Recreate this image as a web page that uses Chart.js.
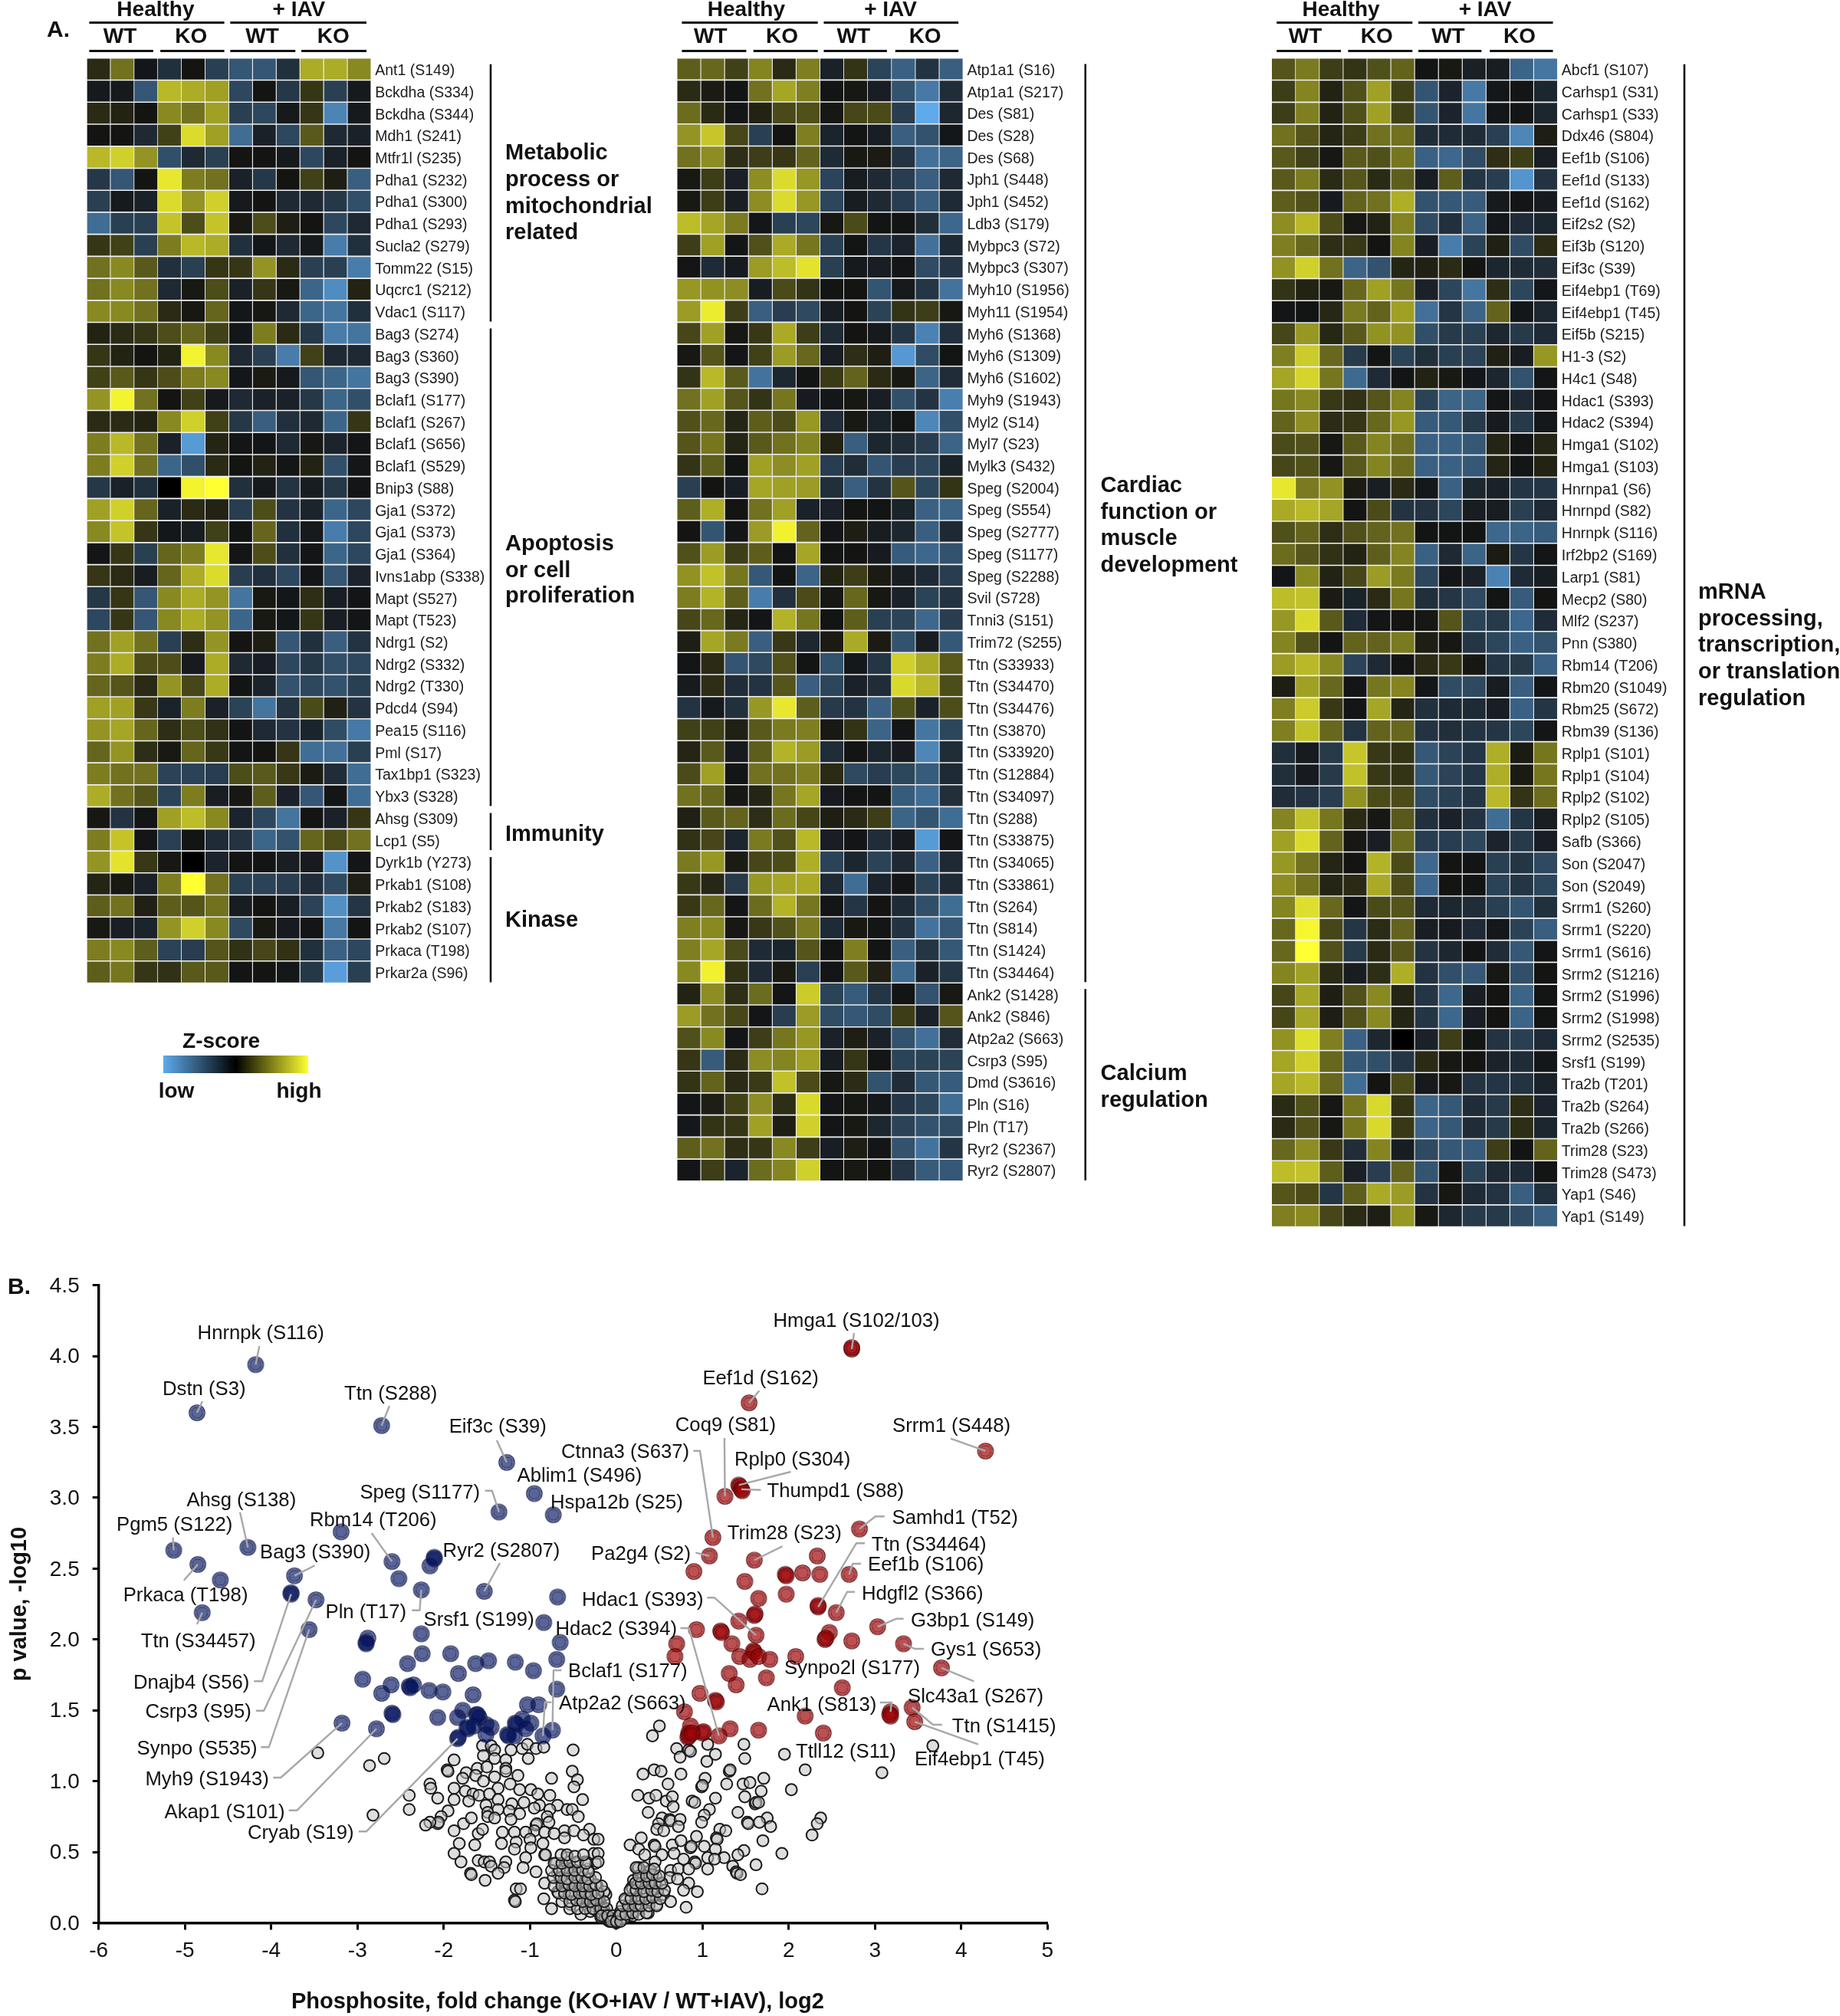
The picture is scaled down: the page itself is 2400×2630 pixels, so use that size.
<!DOCTYPE html>
<html><head><meta charset="utf-8">
<style>html,body{margin:0;padding:0;background:#fff}#s{position:relative;width:2400px;height:2630px;overflow:hidden;background:#fff}canvas{position:absolute;display:block}</style>
<script src="https://cdn.jsdelivr.net/npm/chart.js@4/dist/chart.umd.min.js"></script>
</head><body><div id="s"></div>
<script>
// ---------- heat-map data ----------
const labelsA=["Ant1 (S149)","Bckdha (S334)","Bckdha (S344)","Mdh1 (S241)","Mtfr1l (S235)","Pdha1 (S232)","Pdha1 (S300)","Pdha1 (S293)","Sucla2 (S279)","Tomm22 (S15)","Uqcrc1 (S212)","Vdac1 (S117)","Bag3 (S274)","Bag3 (S360)","Bag3 (S390)","Bclaf1 (S177)","Bclaf1 (S267)","Bclaf1 (S656)","Bclaf1 (S529)","Bnip3 (S88)","Gja1 (S372)","Gja1 (S373)","Gja1 (S364)","Ivns1abp (S338)","Mapt (S527)","Mapt (T523)","Ndrg1 (S2)","Ndrg2 (S332)","Ndrg2 (T330)","Pdcd4 (S94)","Pea15 (S116)","Pml (S17)","Tax1bp1 (S323)","Ybx3 (S328)","Ahsg (S309)","Lcp1 (S5)","Dyrk1b (Y273)","Prkab1 (S108)","Prkab2 (S183)","Prkab2 (S107)","Prkaca (T198)","Prkar2a (S96)"];
const zA=[[1,4,-.3,-2,.1,-3,-4.5,-4.5,-2,6.5,6.5,5],[-.5,-.5,-4.5,7,6.5,6,-3.5,.1,-2.5,1.5,-3,-.5],[1,.7,.1,5,4,6,-3,-3.5,-.5,1.5,-7.5,-.5],[.1,.1,-1.5,2,8.5,6,-6,-1,-3.5,3,-1.5,-1],[7,8,5.5,-4,-1.5,-3,.1,.1,-.5,-3.5,-1,.1],[-2.5,-4.5,.1,9,4.5,4,-1,-2.5,.1,2,.5,-5],[-3,-.5,-1,8.5,5.5,8,-.5,.1,-1.5,-1.5,-2.5,-4],[-6,-3,-3,7.5,2.5,7.5,.3,2.5,.5,.1,-3.5,-1.5],[1.5,2,-3,4.5,7,6.5,-2,-.3,-1.5,-.5,-7,-2],[4,5,3,-2,-3,1.5,1.5,5.5,1,-3,-3,-7],[4,5,4,-1.5,.3,2.5,-1,1.5,.3,-5.5,-8,.7],[5,5,4,1,.2,3.5,-.3,.2,-1.5,-5.5,-6.5,-2],[.7,1,1.5,2.5,3.5,2,-.3,4.5,1,-2.5,-7,-6.5],[1.5,.7,.1,.7,9.5,5,-1.5,-3,-7,2,-1.5,-1.5],[2,3,1.5,2.5,4.5,5,-.3,.4,-.5,-4.5,-5.5,-6.5],[5.5,9.5,4,.1,2,-.5,-1.5,-1,-1,-2.5,-5.5,-4],[1,1,.7,5,8,2,-2.5,-5,-2,-1.5,-5.5,1.5],[4.5,7,4,-1,-9,.8,-.2,-.2,-1.5,.2,-1.2,-.2],[4.5,8,4,-5.5,-4,1,.1,.7,-.2,.7,-4,-.3],[-2.5,-1,-2,0,9.5,10,-2,-.5,-2.2,-.7,-2.5,-.2],[6,8,3.5,-1,1,.7,-2.8,2.5,-2.2,-1.2,-5.5,-3.5],[5,7.5,1.5,-.3,-.7,2,-.1,3.5,-2,-.5,-7,-3.5],[-.2,1.5,-3,3.5,4.5,9,-.2,2.5,-2,-.2,-5.5,-3.5],[1.5,1,-.7,3.5,6.5,8.5,-2.8,-2,-3.5,-.2,-4.5,-1.2],[-2.5,1.5,-4.5,5,6.5,5.5,-6.5,.3,-.3,1.2,-.8,-.2],[-3.5,1.5,-4.5,5,6.5,5.5,-5.5,.3,-.3,1.5,-.8,-.2],[4,6,4,-3,1.2,5.5,.1,.5,-4.5,-2,-5,-2.2],[4.5,6.5,2.5,2.5,-.6,6.5,-1.5,-.8,-3.5,-2.5,-4,-3.5],[3.5,2.8,1,5.5,2.2,6.5,-.1,-1.2,-4.2,-3.5,-4.2,-3],[6,6,1.6,-1.1,4.5,-1,-3.2,-6.5,-2.2,2.4,.6,-2.2],[5.5,6.2,3.5,1.2,2.5,1.3,-.1,-1.5,-2.2,-1.2,-3.8,-6.8],[3.5,5.5,1.2,.3,3.5,1.6,-.1,.1,1.5,-6,-6.2,-3],[4.5,4,4,-3.2,-3.2,-2.8,2.5,3,1.6,.4,-1.8,-6],[6.5,4,2.8,-3.2,4.5,-.8,.2,3.2,-1,-4.5,-.2,-6],[.2,-2.2,-.2,6,7.2,5,-1.2,-3.5,-6.5,-.1,-1,1.5],[4.5,7.5,-.2,-3,-.1,-1.7,-2.2,-5.5,-4.2,3.5,2.5,4],[5.5,8.8,1.6,.2,0,-1.2,-.1,-.1,-.8,-.6,-8.5,-.2],[.8,.3,-1,4.5,10,4,-3,-3.2,-2.8,-1.8,-3.6,.5],[3.2,4,.6,3.2,2.8,4,-.7,.1,-.8,-3.2,-8.2,-2.4],[.3,-.8,-1.2,5.5,8,5,-3.6,.3,-.6,-.2,-6.8,-.1],[4.5,5,3.2,-3.2,-2.8,2.8,1.3,2.2,1.3,-2,-5.2,-3.5],[3.2,4.2,1.5,1.3,3,3,-.1,.1,-.4,-2.5,-9.2,-3]];
const labelsB=["Atp1a1 (S16)","Atp1a1 (S217)","Des (S81)","Des (S28)","Des (S68)","Jph1 (S448)","Jph1 (S452)","Ldb3 (S179)","Mybpc3 (S72)","Mybpc3 (S307)","Myh10 (S1956)","Myh11 (S1954)","Myh6 (S1368)","Myh6 (S1309)","Myh6 (S1602)","Myh9 (S1943)","Myl2 (S14)","Myl7 (S23)","Mylk3 (S432)","Speg (S2004)","Speg (S554)","Speg (S2777)","Speg (S1177)","Speg (S2288)","Svil (S728)","Tnni3 (S151)","Trim72 (S255)","Ttn (S33933)","Ttn (S34470)","Ttn (S34476)","Ttn (S3870)","Ttn (S33920)","Ttn (S12884)","Ttn (S34097)","Ttn (S288)","Ttn (S33875)","Ttn (S34065)","Ttn (S33861)","Ttn (S264)","Ttn (S814)","Ttn (S1424)","Ttn (S34464)","Ank2 (S1428)","Ank2 (S846)","Atp2a2 (S663)","Csrp3 (S95)","Dmd (S3616)","Pln (S16)","Pln (T17)","Ryr2 (S2367)","Ryr2 (S2807)"];
const zB=[[3.2,3.6,2,4.8,1,4.6,-1,1.4,-3.3,-5.2,-2.2,-5],[1,.4,-.1,4,6.2,4.6,-.1,.2,-.8,-4.2,-6.8,-1.8],[3.8,1,-.2,.7,2.3,2.6,.2,2.2,2.4,-2.8,-10,-1.4],[5.5,7.6,2.2,-3,.1,4.6,-1.2,-.1,-.8,-5,-4.2,-.3],[4,5.2,1.2,1.8,1.5,3.4,-1.6,.3,.4,-2.2,-6.2,-5.4],[.3,1.8,-.9,5.2,8.5,5.6,-3.3,-.7,-1.5,-2.8,-5,-1.5],[.3,1.8,-.8,5.2,8.5,5.6,-3.4,-.7,-1.5,-2.8,-5,-1.6],[7.2,6.2,4.4,-.3,-3,-3.4,.2,2.4,-.1,-.1,-1.9,-5.6],[1.8,6,-.2,2.6,6.4,4.2,-3,-.1,-2.4,-1.2,-6.2,-1.6],[-.2,-1.6,-.6,5.8,7.2,8.8,-3,-.5,-.8,-.2,-3.8,-2.4],[5.6,5.4,5.2,-.7,2.4,1.4,-.1,.1,-4.4,-.5,-2.4,-6.4],[5.8,9.2,1.8,-5,-2.8,-3.6,-.8,.1,-3.2,1.4,1.8,.2],[2.2,6,.2,1.6,6.4,1.8,-1.6,.1,-.5,-2.4,-7.4,-2],[.2,2.8,-.2,2,5.8,3.6,-.8,1.2,.5,-8.8,-3.8,-.1],[1.4,7,3,-6.4,-1.4,-.1,1.7,3.4,1,.3,-5.4,-1.8],[4,6,2.8,1.4,4.2,-.6,-.3,.2,-.8,-4,-2.2,-7.2],[2.6,3.6,.8,3.2,2.4,5.6,-1.8,.3,-1.1,-.1,-7.6,-4],[2.8,4.2,.8,3,4,4.8,.7,-5,-1.3,-1.8,-2.8,-5.4],[1.4,3.2,-.1,6,5.2,6,-2.8,-1.8,-4.4,-2.8,-3.4,-1.1],[-3,.1,-.8,6.2,6,5.8,-1.9,-5,-2.2,2.8,-3.4,1.4],[3.2,6.6,.1,4,6,-1,-1,.1,-.1,-1.1,-5.2,-5.4],[.1,-4.4,-.2,5.8,9.4,3.4,-.2,.5,-.7,-1.3,-5,-1.5],[2.6,5.8,1.8,3.2,-.1,6.2,-.1,.1,-.6,-4.8,-5.6,-4.2],[5.4,7.4,4.2,-4.6,-.1,-5.4,.7,1.8,.4,-.8,-1.6,-2.8],[4.5,6.8,3.2,-7,-2,2.4,.2,3.6,.2,-1,-3.2,-2.2],[2.2,3.6,.8,-.2,6.8,4.2,-.1,3.2,-3,-3.2,-5.6,-2.8],[.5,6.2,4.4,-5,1.6,-1.4,.4,6.4,.4,-4.2,-.7,-4.6],[-.2,1,-4.4,-3.6,2.6,-.1,-4.2,-.4,-2.4,8,6.4,3],[-.6,1.2,-1.8,-2.2,2.8,-5,-3.4,-1,-1.8,8.4,7,2.5],[-2.2,-.5,-2,5.6,9,3.2,-2.6,-2.2,-5.2,2.6,-1,2.5],[2,2,.6,3,4.4,4.6,.3,1.4,-5.4,-.2,-6.6,-3.4],[.8,3,-.6,3.2,6.8,5.8,-1.8,.1,-1.3,-.6,-7.6,-1.8],[2.4,6,-.2,4,4,4.6,1,-3.6,-2.8,-3.4,-4.8,-1.6],[4,3.6,.2,.8,4.2,6.2,-.6,-.1,-.1,-4.8,-6,-1.9],[.6,3,3.4,1.2,3.8,2.2,.5,1,1.8,-5.4,-4.4,-6],[1.3,2.2,-1.3,4.4,2.6,7,-.8,-.2,-1.8,-.6,-9,-.2],[4.4,5.6,.4,2.2,2.4,6.6,-3.2,-1.3,-3.2,-1.5,-5.2,-1.5],[1.6,.9,-2.6,5.6,6.2,6.4,-1.6,-6,-1.2,-.2,-3.2,-1.6],[1.6,3.6,-.2,3.8,6.8,4.2,-.2,-2.4,.1,-1.6,-4,-6],[4.6,5,.2,1.6,2.6,4.4,-1.6,.3,-.2,-2.1,-6.4,-4.6],[4.6,6.2,2.3,-1.6,-1.2,2.8,-.1,4.6,-.1,-5,-2.3,-4.6],[5,9.4,1.3,-1.6,.4,-3,-.2,3,.6,-5.8,-1,-2.4],[.7,5.2,1.2,3.8,-.2,7.8,-3.2,-4.8,-2.4,-.1,-4.2,.3],[5.8,4,2.2,-.2,-2.8,5.8,-3.8,-4.6,-3.8,1.8,-1,2.8],[2.6,5,-.2,1.8,4.2,5.6,-1,.5,-1,-4.2,-6.2,-1.8],[1.5,-4.8,1.1,5.2,4.8,6,-.7,1.5,-.2,-3.2,-3.2,-3.2],[1.4,3.4,1,1.7,7.4,2.4,.2,1.1,-4.2,-1.8,-4.6,-4.8],[-.2,.5,2,5.2,1.2,8.4,-.2,.2,-.4,-2.4,-3.4,-6],[-.4,1.4,1.5,6,.5,8,-.2,.3,-1.4,-3.2,-4.2,-3.8],[3.2,4,1.2,1.5,5,1.8,-.8,.5,-.2,-4.2,-6.4,-2.4],[-.2,1.8,-1.2,3.8,4.8,8,-.1,.3,.1,-2.4,-4.8,-4.6]];
const labelsC=["Abcf1 (S107)","Carhsp1 (S31)","Carhsp1 (S33)","Ddx46 (S804)","Eef1b (S106)","Eef1d (S133)","Eef1d (S162)","Eif2s2 (S2)","Eif3b (S120)","Eif3c (S39)","Eif4ebp1 (T69)","Eif4ebp1 (T45)","Eif5b (S215)","H1-3 (S2)","H4c1 (S48)","Hdac1 (S393)","Hdac2 (S394)","Hmga1 (S102)","Hmga1 (S103)","Hnrnpa1 (S6)","Hnrnpd (S82)","Hnrnpk (S116)","Irf2bp2 (S169)","Larp1 (S81)","Mecp2 (S80)","Mlf2 (S237)","Pnn (S380)","Rbm14 (T206)","Rbm20 (S1049)","Rbm25 (S672)","Rbm39 (S136)","Rplp1 (S101)","Rplp1 (S104)","Rplp2 (S102)","Rplp2 (S105)","Safb (S366)","Son (S2047)","Son (S2049)","Srrm1 (S260)","Srrm1 (S220)","Srrm1 (S616)","Srrm2 (S1216)","Srrm2 (S1996)","Srrm2 (S1998)","Srrm2 (S2535)","Srsf1 (S199)","Tra2b (T201)","Tra2b (S264)","Tra2b (S266)","Trim28 (S23)","Trim28 (S473)","Yap1 (S46)","Yap1 (S149)"];
const zC=[[2.8,4.4,1.8,1.4,2.6,3.4,-.1,.3,-.9,-.7,-5.4,-6.6],[1.8,4.8,.7,2.6,6,2,-4.4,-1.2,-6.8,-.3,-.2,-1.3],[1.8,4.6,.7,2.6,6,2,-4.4,-1.2,-6.6,-.3,-.2,-1.3],[4,2.8,.8,1.8,4,4,-1.8,-1.7,-1.8,-3,-7.6,.5],[3,2,.2,3,2.6,4.2,-5.2,-5.6,-3.8,1.2,1.8,-.8],[3,4.4,1,2.8,1,3.2,-.8,3.2,-2.3,-2.8,-8.6,-2.2],[3.2,2.6,-.6,3.4,4,6.6,-4.2,-4.6,-4.8,-.5,-.2,-.6],[5.2,7,2.4,.2,.7,4.8,-3.8,-2,-5.4,-.4,-1.7,-1.3],[4.6,3.6,1.2,1.6,.1,4.8,-.8,-7,-3.2,.6,-3.8,1.1],[5.4,8,4,-5.4,-4.2,.8,.6,1,.1,-1.3,-1.7,-1.8],[1.4,.7,.3,3.6,6,4.2,-1,-3.4,-6.6,1.2,-3.4,-.3],[-.2,-.1,.9,4.4,3.4,6,-6.2,-2.4,-5.4,3.4,-.3,-1.4],[2.2,5.6,.9,3,5.4,5.4,-4,-2.6,-3,-1.4,-2.6,-1.6],[4.6,7.8,3.6,-2.6,-.1,-3.2,-1.9,-3,-3.2,.6,-.7,5.6],[6.2,8.2,4.2,-5.8,-1.6,-.1,.7,.3,-.3,-1.3,-4.2,-.2],[4.2,5,1.6,1.3,2.8,4.8,-3.2,-5.4,-5.4,-.2,-1.5,-.2],[3.4,5.2,1.1,1.5,3.6,5.6,-4.8,-4.6,-2.6,-.6,-2.6,-.4],[2.4,2.6,.2,3,4.8,4,-5.2,-5.2,-4.6,.8,-.2,.8],[2.2,2.6,.2,3,4.8,3.8,-5.2,-5.2,-4.6,.8,-.2,.7],[9,4.4,5.4,.4,-.8,1,-.4,-5.2,-1.4,-1,-2.4,-2.4],[6.4,7,6.2,.1,2.4,-2.2,-2.2,-3.4,-.7,-.7,-3,-1.5],[2.6,3.4,1.2,2.6,3.4,4,-.1,-.1,-.1,-5.6,-5.4,-4.8],[3.8,2.8,1.3,.7,3.2,4.8,-5.2,-1.5,-5.4,.4,-2.4,-.2],[-.2,5,.7,2.2,5.8,4.4,-3.4,-.2,-1,-7.4,-1.6,-.7],[7.2,7.4,.4,-1.1,1,4.2,-1.9,-2.4,-3.6,-.1,-4.8,.1],[5.6,8.4,3,-1.6,-.2,.1,.2,2.8,-3.2,-2.6,-5.6,-1.7],[4.8,2.6,-.1,3.4,3.4,4.4,.5,.2,-2.4,-3.4,-5.2,-4.2],[5.8,7,5,-3.2,-1.5,-.1,1,1.6,.2,-2.4,-2.6,-5.2],[.5,6,3.6,-.2,4.2,4.8,-.3,-3.8,-3.6,-.7,-5,-.2],[4.6,7.8,1.6,-.2,6.2,.8,-2,-1.6,-1.6,-.8,-5.2,-2.4],[4.6,7.4,3.6,-2.2,3.4,3.6,-2.2,-1.9,-2.2,-2.4,-3.4,-.2],[-1.9,-.6,-2.6,7.6,1.6,1.4,-4.6,-3.2,-2.4,6.6,.4,4.2],[-1.9,-.6,-2.6,7.4,1.6,1.4,-4.6,-3.2,-2.4,6.6,.4,4.2],[-1.8,-2.2,-2.8,5.4,2.4,2.4,-3.8,-3,-2.4,7,1.4,3.8],[4.8,7.4,4.2,1,.2,3,-2,-1,-2.2,-6,-2.4,-.8],[6,8.4,3.4,.2,-.8,3.8,-2.8,-2.8,-3.4,-1.2,-2.6,-.8],[5.6,4,.8,.1,6.8,2.4,-5.6,.1,-.1,-3,-2.4,-3.6],[5.2,4,.8,1,6.4,2.4,-5.6,.1,-.1,-3.2,-2.4,-3.4],[4.8,8.6,3.6,-.2,2.4,2.8,-1.6,-1.4,-1.8,-3,-4.4,-2],[3.6,9.6,2.2,-2.4,1.1,3.4,-.8,-.6,-1.6,-.4,-3.2,-5],[3.6,10,2.6,-2.6,1,2.8,-2.2,-1.4,-.1,-1.8,-4.6,-.2],[4.8,6,1,-.7,1.2,6.6,-2.2,-4,-4.6,.2,-4,.1],[2.2,6.2,.5,2.6,5,.8,-2.4,-5.6,-.8,.1,-5.4,-.1],[2.2,6.2,.5,2.6,5,.8,-2.4,-5.6,-.8,.1,-5.4,-.1],[5.4,8.6,4.6,-5.2,-1.4,0,-1,1.8,-.1,-2.2,-3,-1.6],[6.2,8,3.6,-4.6,-4,-2.4,1,.2,.1,-1.1,-1.7,-.3],[6.2,7,3.6,-6,.1,2.4,-.5,.2,-2.2,-2.4,-2.2,-1.1],[1,2.6,.2,4.2,8.4,1.4,-5.4,-4.6,-1.8,-2.6,1.2,-1.2],[1,2.6,.2,4.2,8.4,1.6,-5.4,-4.6,-1.8,-2.6,1.2,-1.3],[3.6,5.2,1.6,-1.8,4.8,-.7,-3.6,-4.6,-4.8,1.8,-.1,3.4],[7.2,7.4,3.2,-.9,-2.8,3.4,-4.4,.1,-3.2,-1.6,-1.6,-.1],[2.8,2.4,-2.4,3.2,6.4,5.8,-2.2,.2,-1.6,-2.2,-5,-2],[4.6,5,2.2,1,.5,5.6,.3,-1.4,-2.6,-2.6,-3.8,-5.2]];

// ---------- volcano data: [log2 fold change, -log10 p] ----------
const bluePoints=[[-4.18,3.94],[-4.86,3.6],[-2.72,3.51],[-1.27,3.25],[-.95,3.03],[-1.36,2.9],[-.73,2.88],[-3.19,2.76],[-4.27,2.65],[-5.13,2.63],[-4.85,2.53],[-2.6,2.55],[-4.59,2.42],[-3.73,2.45],[-2.11,2.57],[-2.11,2.58],[-2.16,2.52],[-2.52,2.43],[-2.26,2.35],[-1.53,2.34],[-.68,2.3],[-3.77,2.32],[-3.77,2.33],[-3.48,2.28],[-4.8,2.19],[-.84,2.12],[-3.56,2.07],[-2.88,2.01],[-2.9,1.98],[-2.9,1.97],[-2.26,2.04],[-.65,1.98],[-2.25,1.9],[-1.92,1.9],[-1.63,1.83],[-1.48,1.85],[-1.17,1.84],[-.96,1.78],[-.69,1.86],[-2.42,1.83],[-1.83,1.76],[-2.94,1.72],[-2.61,1.68],[-2.72,1.62],[-2.4,1.67],[-2.39,1.66],[-2.35,1.68],[-2.17,1.64],[-2.01,1.63],[-1.66,1.61],[-.69,1.65],[-1.03,1.54],[-.9,1.54],[-2.6,1.48],[-2.59,1.47],[-2.07,1.45],[-1.78,1.5],[-1.84,1.45],[-1.61,1.47],[-1.62,1.47],[-1.59,1.45],[-3.18,1.41],[-2.78,1.37],[-1.72,1.37],[-1.73,1.38],[-1.65,1.39],[-1.51,1.4],[-1.45,1.38],[-1.51,1.33],[-1.84,1.3],[-1.83,1.31],[-1.26,1.33],[-1.25,1.32],[-1.18,1.32],[-1.16,1.4],[-1.17,1.41],[-1.09,1.44],[-.99,1.41],[-1.05,1.37],[-.85,1.32],[-.74,1.36]];
const redPoints=[[2.73,4.05],[2.73,4.06],[1.54,3.67],[4.28,3.33],[1.42,3.09],[1.43,3.08],[1.45,3.06],[1.46,3.05],[1.26,3.01],[2.82,2.78],[1.12,2.72],[1.08,2.59],[1.6,2.56],[2.33,2.59],[.9,2.48],[1.96,2.46],[1.97,2.45],[2.16,2.47],[2.36,2.46],[2.7,2.46],[1.49,2.41],[1.65,2.29],[1.97,2.32],[2.34,2.23],[2.34,2.24],[2.55,2.19],[1.6,2.17],[1.61,2.18],[1.42,2.13],[.93,2.07],[1.21,2.06],[1.22,2.05],[1.62,2.03],[3.03,2.09],[2.47,2.05],[2.42,2.0],[2.43,2.01],[2.73,1.99],[3.33,1.97],[.7,1.97],[.68,1.88],[1.34,1.97],[1.43,1.88],[1.59,1.92],[1.6,1.91],[1.55,1.86],[1.65,1.88],[1.78,1.86],[2.08,1.88],[3.77,1.8],[1.31,1.76],[1.39,1.68],[1.74,1.73],[2.62,1.66],[.97,1.62],[1.15,1.57],[1.16,1.56],[.79,1.49],[3.43,1.52],[3.18,1.49],[3.17,1.47],[3.18,1.46],[3.46,1.42],[2.19,1.46],[2.4,1.34],[1.65,1.36],[1.32,1.37],[1.19,1.32],[1,1.34],[1.01,1.35],[.86,1.39],[.84,1.34],[.83,1.31],[.84,1.32],[.88,1.34]];
const greyPoints=[[-3.46,1.2],[-2.69,1.16],[-2.86,1.11],[-1.88,1.15],[-1.96,1.08],[-1.95,1.07],[-1.28,1.15],[-.5,1.22],[-1.22,1.22],[-1.55,1.25],[-1.45,1.25],[-1.54,1.18],[-1.41,1.22],[-1.41,1.16],[-1.09,1.23],[-1.03,1.26],[-.93,1.23],[-.84,1.24],[-1.02,1.16],[-1.28,1.09],[-1.61,1.09],[-1.5,1.1],[-1.74,1.06],[-1.63,1.04],[-1.41,1.03],[-1.14,1.04],[-1.28,1.07],[-.51,1.07],[-.45,1.01],[-.49,.96],[-.75,1.02],[-.39,.87],[-1.78,1.02],[-1.54,1],[-1.37,.95],[-1.23,.98],[-1.12,.94],[-.99,.94],[-.91,.91],[-.77,.9],[-2.16,.98],[-2.15,.95],[-1.88,.95],[-1.75,.93],[-1.66,.91],[-1.59,.9],[-1.47,.91],[-2.07,.88],[-2.4,.9],[-1.88,.87],[-1.71,.86],[-1.51,.83],[-1.37,.87],[-1.21,.84],[-1.07,.85],[-.89,.83],[-.95,.81],[-.68,.83],[-.77,.8],[-.57,.8],[-.51,.8],[-.44,.75],[-.8,.75],[-2.4,.8],[-2.82,.76],[-1.95,.79],[-2.03,.75],[-2.07,.7],[-2.06,.71],[-2.16,.71],[-2.21,.69],[-1.77,.7],[-1.68,.74],[-1.49,.78],[-1.37,.8],[-1.49,.75],[-1.41,.74],[-1.24,.79],[-1.12,.77],[-1.22,.73],[-.93,.69],[-.92,.7],[-.78,.71],[-.95,.65],[-.6,.65],[-.49,.65],[-.31,.66],[-1.88,.65],[-1.82,.56],[-1.64,.55],[-1.6,.63],[-1.55,.66],[-1.32,.64],[-1.18,.64],[-1.05,.64],[-.83,.64],[-.72,.63],[-.6,.6],[-.38,.62],[-.26,.59],[-1.33,.56],[-1.16,.57],[-1.18,.52],[-1,.59],[-.85,.56],[-.99,.53],[-1.88,.49],[-1.8,.43],[-1.6,.44],[-1.53,.43],[-1.47,.43],[-1.45,.4],[-1.05,.46],[-.83,.48],[-.7,.42],[-.57,.46],[-.26,.49],[-.24,.42],[-1.28,.43],[-1.3,.39],[-1.08,.39],[-.93,.36],[-1.69,.35],[-1.68,.34],[-1.37,.35],[-1.52,.3],[-.83,.28],[-1.16,.24],[-1.11,.24],[-1.18,.16],[-1.17,.15],[-.84,.17],[-.75,.1],[-.68,.35],[-.6,.31],[-.53,.38],[-.45,.35],[-.33,.38],[-.68,.22],[-.6,.19],[-.57,.26],[-.49,.22],[-.41,.28],[-.3,.31],[-.22,.26],[-.53,.13],[-.41,.06],[-.33,.15],[-.26,.2],[-.18,.13],[-.12,.2],[-.3,.08],[-.18,.04],[-.1,.02],[-.08,.01],[-.5,.3],[-.47,.27],[-.44,.3],[-.42,.22],[-.4,.19],[-.38,.24],[-.36,.17],[-.35,.28],[-.33,.21],[-.31,.14],[-.3,.18],[-.28,.24],[-.27,.12],[-.25,.16],[-.24,.09],[-.22,.13],[-.2,.17],[-.19,.08],[-.17,.11],[-.16,.06],[-.14,.09],[-.13,.04],[-.11,.06],[-.09,.03],[-.07,.02],[-.05,.01],[-.03,.01],[0,0],[.02,.01],[.04,.02],[.06,.03],[.08,.05],[.1,.04],[.12,.07],[.14,.05],[.16,.1],[.18,.07],[.2,.12],[.22,.09],[.24,.14],[.27,.11],[.3,.16],[.33,.2],[.36,.12],[.4,.22],[-.55,.35],[-.62,.38],[-.58,.28],[-.65,.3],[-.52,.22],[-.7,.42],[-.45,.42],[-.4,.37],[-.36,.43],[.3,.28],[.36,.26],[.42,.3],[.28,.32],[.22,.22],[.2,.3],[.34,.36],[.42,.2],[.48,.25],
[.5,1.39],[.42,1.32],[.7,1.23],[.84,1.22],[.74,1.17],[.86,1.21],[1.06,1.26],[1.15,1.19],[1.05,1.14],[1.48,1.26],[1.49,1.16],[1.95,1.19],[3.67,1.25],[2.19,1.08],[3.08,1.06],[.31,1.05],[.44,1.08],[.52,1.07],[.75,1.05],[1.03,1.02],[1.31,1.07],[1.32,1.08],[.6,.98],[.99,.96],[1,.97],[1.28,.98],[1.47,.98],[1.55,.99],[1.71,1.02],[1.68,.93],[2.03,.94],[.25,.9],[.38,.88],[.46,.9],[.58,.86],[.65,.89],[.66,.82],[.88,.86],[.91,.85],[1.15,.88],[1.49,.89],[1.61,.84],[1.62,.85],[1.65,.85],[1.08,.8],[1.02,.76],[.99,.71],[.37,.78],[1.41,.78],[1.75,.74],[1.66,.71],[1.79,.68],[1.52,.71],[1.53,.7],[2.37,.74],[2.33,.7],[2.27,.62],[.53,.74],[.62,.73],[.63,.72],[.74,.73],[.49,.7],[.47,.66],[.55,.65],[.72,.68],[1.2,.66],[1.27,.65],[1.16,.6],[1.17,.59],[.93,.61],[.29,.6],[.16,.55],[.26,.52],[.33,.48],[.44,.55],[.45,.54],[.65,.55],[.75,.58],[.86,.53],[.87,.54],[1.02,.54],[1.15,.52],[1.7,.58],[1.48,.51],[1.41,.48],[1.92,.49],[1.25,.46],[.53,.48],[.67,.49],[.78,.45],[.91,.43],[.92,.42],[1.06,.46],[1.14,.45],[.45,.43],[1.62,.41],[1.35,.4],[1.39,.36],[1.4,.35],[1.44,.34],[1.06,.38],[.25,.38],[.26,.39],[.4,.37],[.63,.37],[.72,.38],[.84,.38],[.46,.33],[.62,.32],[.71,.31],[.84,.28],[.78,.23],[.94,.22],[1.69,.24],[.18,.25],[.19,.24],[.25,.27],[.35,.31],[.51,.27],[.32,.22],[.44,.23],[.55,.2],[.63,.15],[.81,.11],[.11,.16],[.25,.18],[.39,.16],[.47,.13],[.37,.07],[.26,.1],[.14,.09],[.05,.08],[.19,.05],[.09,.03],[-.21,.2],[-.14,.22],[-.21,.49],[-.21,.43],[-.21,.59],
[-.54,.1],[-.45,.1],[-.36,.1],[-.27,.1],[-.18,.1],[-.11,.1],[-.63,.15],[-.54,.15],[-.46,.16],[-.39,.15],[-.3,.15],[-.23,.16],[-.14,.15],[-.67,.21],[-.6,.21],[-.52,.2],[-.43,.21],[-.36,.21],[-.29,.2],[-.21,.21],[-.72,.26],[-.63,.26],[-.55,.27],[-.48,.26],[-.39,.26],[-.31,.26],[-.24,.27],[-.17,.26],[-.73,.32],[-.64,.32],[-.57,.31],[-.48,.32],[-.4,.32],[-.33,.31],[-.24,.32],[-.75,.37],[-.66,.37],[-.57,.37],[-.48,.37],[-.39,.37],[-.32,.36],[-.72,.42],[-.63,.42],[-.54,.43],[-.45,.43],[-.35,.42],[-.82,.48],[-.64,.48],[-.57,.48],[-.48,.47],[-.38,.48],[-.17,.05],[-.1,.05],[-.04,.05],[.03,.05],[-.06,.01],[0,.01],[.05,.01],[.05,.06],[.11,.06],[.19,.07],[.26,.06],[.35,.07],[.07,.12],[.14,.12],[.22,.12],[.29,.12],[.38,.12],[.47,.12],[.1,.17],[.17,.17],[.26,.17],[.34,.17],[.42,.18],[.51,.17],[.16,.23],[.23,.23],[.32,.22],[.41,.23],[.48,.22],[.56,.23],[.22,.28],[.29,.28],[.38,.28],[.45,.28],[.53,.28],[.26,.33],[.35,.33],[.42,.34],[.5,.33],[.23,.39],[.32,.39],[.44,.38]];
const xTickValues=[-6,-5,-4,-3,-2,-1,0,1,2,3,4,5];
const yTickValues=[0,.5,1,1.5,2,2.5,3,3.5,4,4.5];

// ---------- styling and layout tables ----------
const FONT="'Liberation Sans', Arial, sans-serif";
const INK='#111';
const LOW=[95,170,235],HIGH=[255,255,50],MID=[18,18,18];
function zColor(v){
  if(v===0) return 'rgb(0,0,0)';
  const e=v>0?HIGH:LOW,t=Math.min(1,Math.abs(v)/10);
  return 'rgb('+MID.map((m,i)=>Math.round(m+(e[i]-m)*t)).join(',')+')';
}
const heatPanels=[
 {id:'A',left:0,width:860,height:1500,x0:113.3,x1:484.2,y0:75.8,row:28.73,labels:labelsA,z:zA,hShift:.1,
  brackets:[[0,11],[12,33],[34,35],[36,41]],bracketX:640,
  groups:[{x:659,base:[208,243,278,312],lines:['Metabolic','process or','mitochondrial','related']},
          {x:659,base:[718,753,786],lines:['Apoptosis','or cell','proliferation']},
          {x:659,base:[1097],lines:['Immunity']},{x:659,base:[1209],lines:['Kinase']}]},
 {id:'B',left:860,width:780,height:1560,x0:883.2,x1:1256.4,y0:75.6,row:28.73,labels:labelsB,z:zB,hShift:.2,
  brackets:[[0,41],[42,50]],bracketX:1415.7,
  groups:[{x:1435.6,base:[642,677,711,746],lines:['Cardiac','function or','muscle','development']},
          {x:1435.6,base:[1409,1444],lines:['Calcium','regulation']}]},
 {id:'C',left:1640,width:760,height:1630,x0:1659,x1:2031.8,y0:75.8,row:28.77,labels:labelsC,z:zC,hShift:.2,
  brackets:[[0,52]],bracketX:2197,
  groups:[{x:2215,base:[781,816,850,885,920],lines:['mRNA','processing,','transcription,','or translation','regulation']}]}
];
const heatPlugin={id:'heatDecor',afterDraw(c){
  const p=c.options.plugins.heatDecor.panel,x=c.scales.x,y=c.scales.y,g=c.ctx,s=p.hShift;
  g.save();g.fillStyle=INK;g.strokeStyle=INK;g.lineWidth=3;
  const seg=(a,b,py)=>{g.beginPath();g.moveTo(x.getPixelForValue(a),py);g.lineTo(x.getPixelForValue(b),py);g.stroke();};
  seg(s,5.8+s-.1,29.5);seg(6+s-.05,11.8,29.5);
  [[s,2.8+s-.1],[3+s,5.8+s-.1],[6+s-.05,8.8],[9+s-.05,11.8]].forEach(r=>seg(r[0],r[1],66.5));
  g.font='bold 28px '+FONT;g.textAlign='center';g.textBaseline='alphabetic';
  g.fillText('Healthy',x.getPixelForValue(2.9),21);g.fillText('+ IAV',x.getPixelForValue(8.95),21);
  ['WT','KO','WT','KO'].forEach((t,i)=>g.fillText(t,x.getPixelForValue(1.4+3*i),56));
  const rowTop=i=>y.getPixelForValue(i)-p.row/2;
  g.lineWidth=2.6;
  p.brackets.forEach(b=>{g.beginPath();const bx=p.bracketX-p.left;g.moveTo(bx,rowTop(b[0])+8);g.lineTo(bx,rowTop(b[1])+p.row-1);g.stroke();});
  g.font='bold 29px '+FONT;g.textAlign='left';
  p.groups.forEach(o=>o.lines.forEach((t,i)=>g.fillText(t,o.x-p.left,o.base[i])));
  if(p.id==='A'){
    g.font='bold 30px '+FONT;g.fillText('A.',61,47.6);
    const gr=g.createLinearGradient(213,0,402,0);
    gr.addColorStop(0,zColor(-10));gr.addColorStop(.5,zColor(0));gr.addColorStop(1,zColor(10));
    g.fillStyle=gr;g.fillRect(213,1377,189,23);
    g.fillStyle=INK;g.font='bold 28px '+FONT;g.textAlign='center';g.fillText('Z-score',288.6,1367);
    g.fillText('low',230,1431.6);g.fillText('high',390,1431.6);
  }
  g.restore();
}};
function makeHeat(p){
  const cv=document.createElement('canvas');cv.width=p.width;cv.height=p.height;
  cv.style.left=p.left+'px';cv.style.top='0px';document.getElementById('s').appendChild(cv);
  const ds=[];
  for(let c=0;c<12;c++) ds.push({label:'sample '+(c+1),data:p.z.map(()=>1),backgroundColor:p.z.map(r=>zColor(r[c])),
    borderColor:'#ececec',borderWidth:.8,inflateAmount:0,barPercentage:1,categoryPercentage:1});
  new Chart(cv,{type:'bar',data:{labels:p.labels,datasets:ds},plugins:[heatPlugin],options:{
    indexAxis:'y',responsive:false,animation:false,devicePixelRatio:1,
    layout:{padding:{left:p.x0-p.left,top:p.y0,right:0,bottom:p.height-p.y0-p.row*p.labels.length}},
    plugins:{legend:{display:false},tooltip:{enabled:false},heatDecor:{panel:p}},
    scales:{
      x:{display:false,stacked:true,min:0,max:12},
      y:{stacked:true,position:'right',grid:{display:false,drawTicks:false},border:{display:false},
        afterFit(s){s.width=p.width-(p.x1-p.left);},
        ticks:{autoSkip:false,padding:5,labelOffset:2.5,color:'#1c1c1c',maxRotation:0,font:{family:FONT,size:19.5}}}
    }}});
}
heatPanels.forEach(makeHeat);

// Callouts: text position and elbow vertices in page pixels; "to" is the data point the leader ends on.
const TOPV=1640;
const Y0PX=2508.5;
const callouts=[
 {t:'Hnrnpk (S116)',x:257.6,y:1746.7,l:[[338.3,1756]],to:[-4.18,3.94]},
 {t:'Dstn (S3)',x:212,y:1820,l:[[264,1828]],to:[-4.86,3.6]},
 {t:'Ttn (S288)',x:449,y:1825.7,l:[[508,1834]],to:[-2.72,3.51]},
 {t:'Eif3c (S39)',x:585.7,y:1869,l:[[648,1879]],to:[-1.27,3.25]},
 {t:'Ablim1 (S496)',x:674.5,y:1933},
 {t:'Ctnna3 (S637)',x:732,y:1902,l:[[904.5,1892.7],[913,1892.7]],to:[1.12,2.72]},
 {t:'Speg (S1177)',x:469.4,y:1955,l:[[632.7,1944.7],[641.8,1944.7]],to:[-1.36,2.9]},
 {t:'Hspa12b (S25)',x:718,y:1968},
 {t:'Ahsg (S138)',x:243.4,y:1965,l:[[313,1972.7]],to:[-4.27,2.65]},
 {t:'Rbm14 (T206)',x:404,y:1991,l:[[484.7,2000]],to:[-2.6,2.55]},
 {t:'Pgm5 (S122)',x:152,y:1996.7,l:[[225.5,2005.7]],to:[-5.13,2.63]},
 {t:'Bag3 (S390)',x:339,y:2033,l:[[410.7,2042.3]],to:[-3.73,2.45]},
 {t:'Ryr2 (S2807)',x:577.6,y:2030.7,l:[[652,2039]],to:[-1.53,2.34]},
 {t:'Pa2g4 (S2)',x:771,y:2035,l:[[907.3,2025.7]],to:[1.08,2.59]},
 {t:'Prkaca (T198)',x:160.7,y:2089,l:[[239.8,2061.7]],to:[-4.85,2.53]},
 {t:'Hdac1 (S393)',x:759,y:2095,l:[[922.3,2084.3],[932.2,2084.3]],to:[1.62,2.03]},
 {t:'Pln (T17)',x:424.5,y:2111,l:[[537.2,2100.7],[547.4,2100.7]],to:[-2.26,2.35]},
 {t:'Srsf1 (S199)',x:552.5,y:2121},
 {t:'Ttn (S34457)',x:183.7,y:2149,l:[[257,2119]],to:[-4.8,2.19]},
 {t:'Hdac2 (S394)',x:724.5,y:2133,l:[[887.5,2124],[898.6,2124]],to:[1.19,1.32]},
 {t:'Dnajb4 (S56)',x:174,y:2202.7,l:[[331.2,2193.3],[342,2193.3]],to:[-3.77,2.32]},
 {t:'Csrp3 (S95)',x:189.4,y:2240.7,l:[[333.8,2231.7],[344.2,2231.7]],to:[-3.48,2.28]},
 {t:'Synpo (S535)',x:178.5,y:2289,l:[[340.3,2279.3],[350.7,2279.3]],to:[-3.56,2.07]},
 {t:'Myh9 (S1943)',x:189.4,y:2329,l:[[356.3,2319],[366.3,2319]],to:[-3.18,1.41]},
 {t:'Akap1 (S101)',x:214.5,y:2371.7,l:[[376.7,2361.7],[387.6,2361.7]],to:[-2.78,1.37]},
 {t:'Cryab (S19)',x:323,y:2399,l:[[467.8,2389.3],[477.8,2389.3]],to:[-1.84,1.3]},
 {t:'Bclaf1 (S177)',x:741,y:2188,l:[[732.3,2179],[722,2179]],to:[-.74,1.36]},
 {t:'Atp2a2 (S663)',x:729,y:2230,l:[[719.3,2220.7],[710.6,2220.7]],to:[-.85,1.32]},
 {t:'Trim28 (S23)',x:948.8,y:2008,l:[[1020.4,2017.3]],to:[1.6,2.56]},
 {t:'Coq9 (S81)',x:880.8,y:1867,l:[[944.9,1876]],to:[1.26,3.01]},
 {t:'Eef1d (S162)',x:916.4,y:1806,l:[[990.4,1814.3]],to:[1.54,3.67]},
 {t:'Hmga1 (S102/103)',x:1008.5,y:1731,l:[[1114,1739]],to:[2.73,4.05]},
 {t:'Srrm1 (S448)',x:1164,y:1868,l:[[1239.9,1876.7]],to:[4.28,3.33]},
 {t:'Rplp0 (S304)',x:958,y:1911.7,l:[[1031.5,1920]],to:[1.42,3.09]},
 {t:'Thumpd1 (S88)',x:1000.6,y:1953,l:[[992.3,1943.7]],to:[1.45,3.06]},
 {t:'Samhd1 (T52)',x:1163.5,y:1987.7,l:[[1153.7,1978.3],[1141.8,1978.3]],to:[2.82,2.78]},
 {t:'Ttn (S34464)',x:1136.7,y:2022.7,l:[[1128,2013.3],[1116.9,2013.3]],to:[2.34,2.23]},
 {t:'Eef1b (S106)',x:1132,y:2049,l:[[1123.2,2040],[1112.1,2040]],to:[2.7,2.46]},
 {t:'Hdgfl2 (S366)',x:1124,y:2087.3,l:[[1114.9,2076.7],[1105,2076.7]],to:[2.55,2.19]},
 {t:'G3bp1 (S149)',x:1188,y:2121.7,l:[[1178.6,2111.7],[1169.5,2111.7]],to:[3.03,2.09]},
 {t:'Gys1 (S653)',x:1214,y:2160,l:[[1205,2151],[1193,2151]],to:[3.33,1.97]},
 {t:'Synpo2l (S177)',x:1023,y:2184.3},
 {t:'Slc43a1 (S267)',x:1184,y:2221,l:[[1270.3,2193.3]],to:[3.77,1.8]},
 {t:'Ank1 (S813)',x:1000.6,y:2231.7,l:[[1147.7,2221],[1162.8,2221]],to:[3.18,1.49]},
 {t:'Ttn (S1415)',x:1241.8,y:2260,l:[[1228.8,2250],[1217,2250]],to:[3.43,1.52]},
 {t:'Eif4ebp1 (T45)',x:1193,y:2303.3,l:[[1276,2275.7]],to:[3.46,1.42]},
 {t:'Ttll12 (S11)',x:1038,y:2293}
];
const calloutPlugin={id:'callouts',afterDatasetsDraw(c){
  const g=c.ctx,x=c.scales.x,y=c.scales.y;
  g.save();g.strokeStyle='#a8a8a8';g.lineWidth=2.4;g.lineJoin='round';
  callouts.forEach(o=>{ if(!o.l) return;
    g.beginPath();o.l.forEach((q,i)=>{const py=q[1]-TOPV;i?g.lineTo(q[0],py):g.moveTo(q[0],py);});
    g.lineTo(x.getPixelForValue(o.to[0]),y.getPixelForValue(o.to[1]));g.stroke();});
  g.fillStyle=INK;g.font='25.7px '+FONT;g.textAlign='left';g.textBaseline='alphabetic';
  callouts.forEach(o=>g.fillText(o.t,o.x,o.y-TOPV));
  g.font='bold 30px '+FONT;g.fillText('B.',10,1688-TOPV);
  g.restore();
}};
// layered marker: thin outline, translucent band, dark inner ring, translucent centre
function ringDot(layers){
  const cv=document.createElement('canvas');cv.width=cv.height=24;const g=cv.getContext('2d');
  layers.forEach(l=>{
    g.globalCompositeOperation='destination-out';g.fillStyle='#000';g.beginPath();g.arc(12,12,l[0],0,7);g.fill();
    g.globalCompositeOperation='source-over';g.fillStyle=l[1];g.beginPath();g.arc(12,12,l[0],0,7);g.fill();
  });
  return cv;
}
const blueDot=ringDot([[10.8,'rgba(20,32,85,.95)'],[9.7,'rgba(0,12,85,.65)'],[7.6,'rgba(20,32,85,.95)'],[6.3,'rgba(0,17,97,.65)']]);
const redDot=ringDot([[10.8,'rgba(80,5,8,.95)'],[9.7,'rgba(157,0,0,.72)'],[7.6,'rgba(120,10,14,.95)'],[6.3,'rgba(160,5,10,.70)']]);
const toXY=a=>a.map(p=>({x:p[0],y:p[1]}));
const cvV=document.createElement('canvas');cvV.width=1400;cvV.height=990;cvV.style.left='0px';cvV.style.top=TOPV+'px';
document.getElementById('s').appendChild(cvV);
const tickFont={family:FONT,size:28};
new Chart(cvV,{type:'scatter',plugins:[calloutPlugin],data:{datasets:[
  {label:'n.s.',data:toXY(greyPoints),pointRadius:7.4,pointBorderWidth:2,backgroundColor:'rgba(195,195,195,.55)',borderColor:'#1a1a1a',clip:false,order:3},
  {label:'down',data:toXY(bluePoints),pointRadius:10,pointStyle:blueDot,clip:false,order:2},
  {label:'up',data:toXY(redPoints),pointRadius:10,pointStyle:redDot,clip:false,order:1}
]},options:{responsive:false,animation:false,devicePixelRatio:1,
  layout:{padding:{left:0,top:1676.7-TOPV,right:1400-1366.4,bottom:0}},
  plugins:{legend:{display:false},tooltip:{enabled:false}},
  scales:{
   x:{type:'linear',min:-6,max:5,afterBuildTicks(s){s.ticks=xTickValues.map(v=>({value:v}));},
     afterFit(s){s.height=990-(Y0PX-TOPV);},
     grid:{drawOnChartArea:false,tickLength:9,tickWidth:3,tickColor:'#000'},border:{color:'#000',width:3.4},
     ticks:{padding:11,color:INK,maxRotation:0,font:tickFont},
     title:{display:true,text:'Phosphosite, fold change (KO+IAV / WT+IAV), log2     ',color:INK,font:{family:FONT,size:29,weight:'bold'},padding:{top:0,bottom:1}}},
   y:{type:'linear',min:0,max:4.5,afterBuildTicks(s){s.ticks=yTickValues.map(v=>({value:v}));},
     afterFit(s){s.width=128.7;},
     grid:{drawOnChartArea:false,tickLength:8,tickWidth:3,tickColor:'#000'},border:{color:'#000',width:3.4},
     ticks:{padding:17,labelOffset:1.5,color:INK,font:tickFont,callback:v=>v.toFixed(1)},
     title:{display:true,text:'p value, -log10',color:INK,font:{family:FONT,size:29,weight:'bold'},padding:{top:9,bottom:0}}}
  }}});
</script></body></html>
